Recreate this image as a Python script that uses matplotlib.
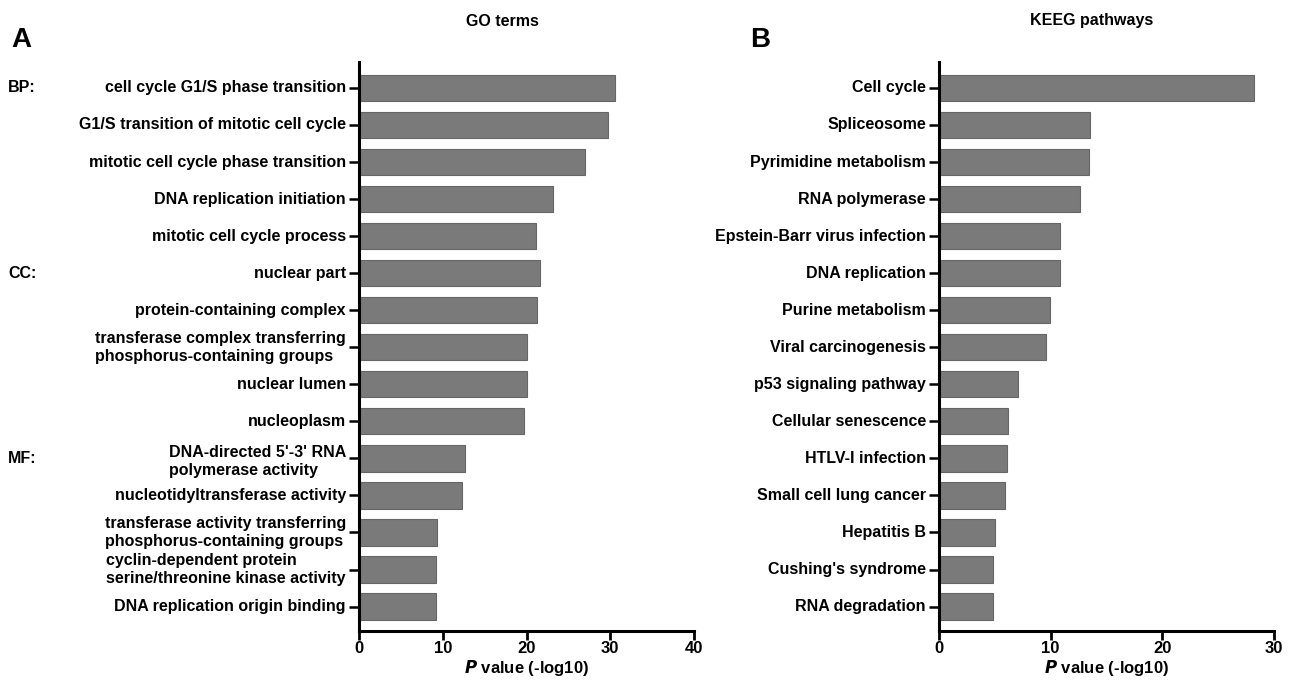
import matplotlib
matplotlib.use("Agg")
import matplotlib.pyplot as plt

plt.rcParams['font.family'] = ['Liberation Sans', 'DejaVu Sans']

go_terms = [
    "cell cycle G1/S phase transition",
    "G1/S transition of mitotic cell cycle",
    "mitotic cell cycle phase transition",
    "DNA replication initiation",
    "mitotic cell cycle process",
    "nuclear part",
    "protein-containing complex",
    "transferase complex transferring\nphosphorus-containing groups",
    "nuclear lumen",
    "nucleoplasm",
    "DNA-directed 5'-3' RNA\npolymerase activity",
    "nucleotidyltransferase activity",
    "transferase activity transferring\nphosphorus-containing groups",
    "cyclin-dependent protein\nserine/threonine kinase activity",
    "DNA replication origin binding",
]
go_values = [30.6, 29.7, 27.0, 23.2, 21.1, 21.6, 21.3, 20.0, 20.0, 19.75,
             12.7, 12.3, 9.35, 9.25, 9.25]
go_groups = {"BP:": 0, "CC:": 5, "MF:": 10}

kegg_terms = [
    "Cell cycle",
    "Spliceosome",
    "Pyrimidine metabolism",
    "RNA polymerase",
    "Epstein-Barr virus infection",
    "DNA replication",
    "Purine metabolism",
    "Viral carcinogenesis",
    "p53 signaling pathway",
    "Cellular senescence",
    "HTLV-I infection",
    "Small cell lung cancer",
    "Hepatitis B",
    "Cushing's syndrome",
    "RNA degradation",
]
kegg_values = [28.2, 13.55, 13.4, 12.65, 10.85, 10.8, 9.95, 9.6, 7.05, 6.2,
               6.1, 5.95, 5.05, 4.8, 4.8]

W, H = 1289, 692
fig = plt.figure(figsize=(W / 100, H / 100), dpi=100)

bar_color = '#7a7a7a'
edge_color = '#666666'


def px(x0, y0, x1, y1):
    return [x0 / W, 1 - y1 / H, (x1 - x0) / W, (y1 - y0) / H]


def make_panel(rect, labels, values, xmax, xticks):
    ax = fig.add_axes(rect)
    pos = list(range(len(labels)))
    ax.barh(pos, values, height=0.71, color=bar_color, edgecolor=edge_color,
            linewidth=0.8, zorder=2)
    ax.set_xlim(0, xmax)
    ax.set_ylim(len(labels) - 1 + 0.66, -0.7)
    ax.set_yticks(pos)
    ax.set_yticklabels(labels, fontsize=11.5, fontweight='bold')
    for lbl in ax.get_yticklabels():
        lbl.set_multialignment('left')
        lbl.set_verticalalignment('center')
        lbl.set_linespacing(1.25)
    ax.set_xticks(xticks)
    ax.set_xticklabels([str(t) for t in xticks], fontsize=12, fontweight='bold')
    for s in ['top', 'right']:
        ax.spines[s].set_visible(False)
    for s in ['left', 'bottom']:
        ax.spines[s].set_linewidth(2.2)
    ax.tick_params(axis='y', length=7.5, width=1.8, pad=2)
    ax.tick_params(axis='x', length=6.5, width=2.0, pad=1)
    ax.set_xlabel(r'$\bfit{P}$ value (-log10)', fontsize=12,
                  fontweight='bold', labelpad=1)
    return ax


axA = make_panel(px(359, 62, 694, 631), go_terms, go_values, 40, [0, 10, 20, 30, 40])
axB = make_panel(px(939, 62, 1274, 631), kegg_terms, kegg_values, 30, [0, 10, 20, 30])

# the DNA-directed label sits with its first line at the tick
axA.get_yticklabels()[10].set_verticalalignment('center_baseline')

for name, idx in go_groups.items():
    axA.text(8 / W, idx, name, transform=matplotlib.transforms.blended_transform_factory(
        fig.transFigure, axA.transData), fontsize=11.5, fontweight='bold',
        ha='left', va='center')

fig.text(502 / W, 1 - 21 / H, 'GO terms', fontsize=11.5, fontweight='bold',
         ha='center', va='center')
fig.text(1092 / W, 1 - 21 / H, 'KEEG pathways', fontsize=11.5, fontweight='bold',
         ha='center', va='center')
fig.text(11 / W, 1 - 40 / H, 'A', fontsize=20, fontweight='bold',
         ha='left', va='center')
fig.text(750 / W, 1 - 40 / H, 'B', fontsize=20, fontweight='bold',
         ha='left', va='center')

fig.savefig('out.png', dpi=100, facecolor='white')
